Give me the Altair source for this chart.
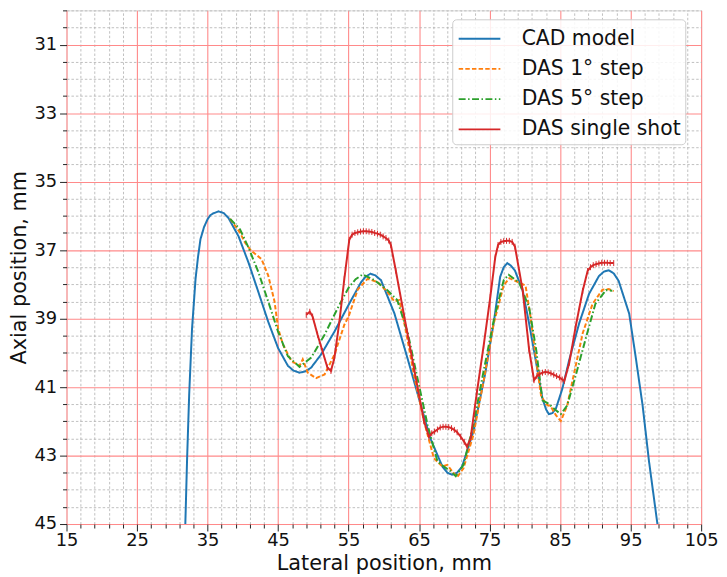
import altair as alt
import pandas as pd

# ---------------- data ----------------
series_names = ["CAD model", "DAS 1° step", "DAS 5° step", "DAS single shot"]
series_colors = ["#1f77b4", "#ff7f0e", "#2ca02c", "#d62728"]
series_dashes = [[1, 0], [4.5, 2.2], [7, 2.5, 1.5, 2.5], [1, 0]]

cad_x = [31.85, 32.1, 32.4, 32.8, 33.3, 33.65, 34.0, 34.5, 35.0, 35.4, 35.8, 36.55, 37.3, 37.96,
         39.4, 40.8, 42.2, 43.6, 45.0, 46.4, 47.2, 48.05, 48.9, 49.7, 51.1, 53.0, 55.0, 56.8,
         57.4, 58.1, 58.8, 59.6, 61.5, 63.4, 65.0, 66.6, 68.3, 69.0, 69.7, 70.4, 71.1, 72.7,
         74.4, 75.6, 76.5, 77.0, 77.5, 78.0, 78.6, 79.7, 80.6, 81.6, 82.5, 83.0, 83.4, 83.9,
         84.4, 85.3, 86.3, 87.7, 89.1, 90.5, 91.2, 91.9, 92.6, 93.3, 94.8, 95.7, 96.7, 97.6, 98.8]
cad_y = [45.0, 43.1, 41.2, 39.3, 37.84, 37.2, 36.68, 36.33, 36.1, 35.98, 35.93, 35.87, 35.92, 36.06,
         36.6, 37.36, 38.22, 39.09, 39.86, 40.38, 40.52, 40.58, 40.54, 40.43, 40.05, 39.38, 38.6, 37.93,
         37.78, 37.69, 37.74, 37.88, 38.85, 40.19, 41.35, 42.5, 43.32, 43.5, 43.56, 43.5, 43.32, 42.3,
         40.58, 39.1, 37.78, 37.5, 37.38, 37.45, 37.6, 38.19, 39.14, 40.29, 41.34, 41.65, 41.79, 41.76,
         41.63, 41.06, 40.2, 39.14, 38.28, 37.76, 37.63, 37.59, 37.68, 37.9, 38.86, 40.1, 41.54, 43.16, 45.0]

das1_x = [38.2, 39.6, 40.3, 41.2, 42.65, 43.6, 44.5, 45.0, 45.7, 46.9, 48.05, 48.5, 49.2,
          50.4, 51.6, 53.0, 54.4, 55.0, 56.3, 57.7, 59.1, 60.5, 61.5, 62.2, 63.1, 64.3, 65.7,
          67.1, 68.3, 69.0, 69.7, 70.4, 71.3, 72.7, 74.2, 75.6, 77.0, 77.8, 79.2, 80.1, 80.8,
          81.6, 82.3, 83.0, 83.7, 84.4, 85.1, 86.0, 87.0, 88.2, 89.6, 91.0, 91.9, 92.6]
das1_y = [36.09, 36.49, 36.78, 37.02, 37.26, 37.74, 38.5, 39.28, 39.76, 40.24, 40.38, 40.19, 40.58,
          40.74, 40.63, 40.05, 39.18, 38.94, 38.15, 37.84, 37.93, 38.22, 38.5, 38.46, 39.33, 40.67, 42.0,
          43.08, 43.32, 43.27, 43.46, 43.63, 43.37, 42.4, 40.77, 39.13, 38.03, 37.82, 37.95, 38.04, 38.95,
          40.2, 41.25, 41.5, 41.58, 41.82, 41.99, 41.54, 40.58, 39.43, 38.57, 38.16, 38.14, 38.2]

das5_x = [38.2, 39.6, 40.8, 42.2, 43.6, 45.0, 46.4, 48.05, 49.7, 51.6, 53.45, 55.0, 56.0,
          57.0, 58.7, 60.5, 61.9, 63.4, 64.8, 66.2, 67.6, 68.5, 69.5, 70.2, 71.3, 72.7, 74.2,
          75.6, 77.0, 77.7, 79.2, 80.6, 81.6, 82.5, 83.4, 84.4, 85.1, 86.0, 87.2, 88.7, 90.0,
          91.5, 92.4]
das5_y = [36.09, 36.39, 36.92, 37.64, 38.5, 39.38, 40.1, 40.41, 40.14, 39.47, 38.7, 38.1, 37.85,
          37.71, 37.88, 38.17, 38.46, 39.42, 40.77, 42.1, 43.17, 43.32, 43.46, 43.6, 43.27, 42.1, 40.48,
          39.04, 37.88, 37.72, 37.95, 38.67, 39.9, 41.39, 41.49, 41.68, 41.79, 41.54, 40.67, 39.53, 38.57,
          38.17, 38.19]

single_x = [49.0, 49.5, 49.9, 50.6, 51.3, 52.0, 52.5, 53.0, 53.7, 54.4, 55.1, 55.5, 55.9, 56.3,
            56.7, 57.1, 57.5, 57.9, 58.3, 58.7, 59.1, 59.5, 59.9, 60.3, 60.7, 61.0, 61.7, 62.9,
            64.3, 65.7, 66.4, 66.8, 67.2, 67.6, 68.0, 68.4, 68.8, 69.2, 69.6, 70.0, 70.4, 70.9,
            71.4, 71.8, 72.3, 73.2, 74.15, 75.1, 75.8, 76.2, 76.6, 77.0, 77.4, 77.8, 78.2, 78.6,
            79.7, 80.6, 81.3, 81.7, 82.1, 82.5, 82.9, 83.3, 83.7, 84.1, 84.5, 84.9, 85.3, 85.6,
            86.3, 87.2, 88.2, 88.9, 89.3, 89.7, 90.1, 90.5, 90.9, 91.3, 91.7, 92.1, 92.6]
single_y = [38.89, 38.8, 38.94, 39.47, 39.95, 40.43, 40.53, 40.14, 39.09, 37.84, 36.7, 36.55, 36.5, 36.48,
            36.46, 36.45, 36.45, 36.46, 36.47, 36.5, 36.52, 36.55, 36.6, 36.65, 36.72, 36.85, 37.6, 38.94,
            40.48, 42.0, 42.45, 42.35, 42.3, 42.24, 42.18, 42.16, 42.16, 42.17, 42.2, 42.25, 42.32, 42.45,
            42.6, 42.74, 42.5, 41.15, 39.8, 38.37, 37.21, 36.85, 36.76, 36.74, 36.73, 36.73, 36.76, 36.9,
            38.19, 39.9, 40.8, 40.68, 40.62, 40.58, 40.56, 40.57, 40.6, 40.64, 40.68, 40.72, 40.78, 40.82,
            40.29, 39.24, 38.19, 37.61, 37.5, 37.44, 37.41, 37.39, 37.37, 37.37, 37.37, 37.38, 37.38]

x_ticks = [15 + 2 * i for i in range(46)]          # minor every 2 mm, major every 10 mm
y_ticks = [30 + 0.5 * i for i in range(31)]        # minor every 0.5 mm, major at odd mm

# ---------------- table ----------------
rows = []
for name, xs, ys in zip(series_names, [cad_x, das1_x, das5_x, single_x],
                        [cad_y, das1_y, das5_y, single_y]):
    for i, (a, b) in enumerate(zip(xs, ys)):
        rows.append({"series": name, "x": a, "y": b, "i": i})
df = pd.DataFrame(rows)
df_single = df[df["series"] == "DAS single shot"]

FONT = "DejaVu Sans"

x_major = "(datum.value - 15) % 10 == 0"
y_major = "datum.value % 2 == 1"


def make_axis(test, values, title_pad, label_pad):
    return alt.Axis(
        values=values,
        tickCount=len(values),
        labelExpr=f"{test} ? format(datum.value, 'd') : ''",
        tickSize={"condition": {"test": test, "value": 7}, "value": 4},
        tickColor="#222222",
        tickWidth=1,
        gridColor={"condition": {"test": test, "value": "#ff8a8a"}, "value": "#b0b0b0"},
        gridDash={"condition": {"test": test, "value": [1, 0]}, "value": [2.5, 2]},
        gridWidth={"condition": {"test": test, "value": 1.1}, "value": 0.8},
        domain=False,
        labelFont=FONT,
        labelFontSize=18,
        labelColor="#111111",
        labelFlush=False,
        labelOverlap=False,
        labelPadding=label_pad,
        titleFont=FONT,
        titleFontSize=21,
        titleFontWeight="normal",
        titleColor="#111111",
        titlePadding=title_pad,
    )


legend = alt.Legend(
    title=None,
    orient="none",
    legendX=389,
    legendY=9,
    symbolType="M-1.45,0L1.45,0",
    symbolSize=841,
    symbolOffset=8,
    symbolStrokeWidth=2,
    labelFont=FONT,
    labelFontSize=20.5,
    labelColor="#111111",
    labelLimit=400,
    labelOffset=27,
    rowPadding=4.5,
    padding=4,
    fillColor="rgba(255,255,255,0.85)",
    strokeColor="#cccccc",
    cornerRadius=4,
)

x_enc = alt.X("x:Q", title="Lateral position, mm",
              scale=alt.Scale(domain=[15, 105], nice=False, zero=False),
              axis=make_axis(x_major, x_ticks, 3, 1))
y_enc = alt.Y("y:Q", title="Axial position, mm",
              scale=alt.Scale(domain=[30, 45], nice=False, zero=False, reverse=True),
              axis=make_axis(y_major, y_ticks, 4, 3))

lines = alt.Chart(df).mark_line(strokeWidth=2, clip=True).encode(
    x=x_enc,
    y=y_enc,
    color=alt.Color("series:N", scale=alt.Scale(domain=series_names, range=series_colors),
                    legend=legend),
    strokeDash=alt.StrokeDash("series:N", scale=alt.Scale(domain=series_names, range=series_dashes),
                              legend=legend),
    order=alt.Order("i:Q"),
)

markers = alt.Chart(df_single).mark_point(
    shape="M0,-1L0,1", size=36, filled=False, stroke="#d62728", strokeWidth=1, opacity=1, clip=True
).encode(x="x:Q", y="y:Q")

chart = alt.layer(lines, markers).properties(
    width=640,
    height=518,
    autosize=alt.AutoSizeParams(type="none"),
    padding={"left": 59, "top": 0, "right": 18, "bottom": 50},
).configure_view(stroke="#222222", strokeWidth=1.2).configure(background="white")

chart.save("out.html", embed_options={"renderer": "svg", "actions": False})
